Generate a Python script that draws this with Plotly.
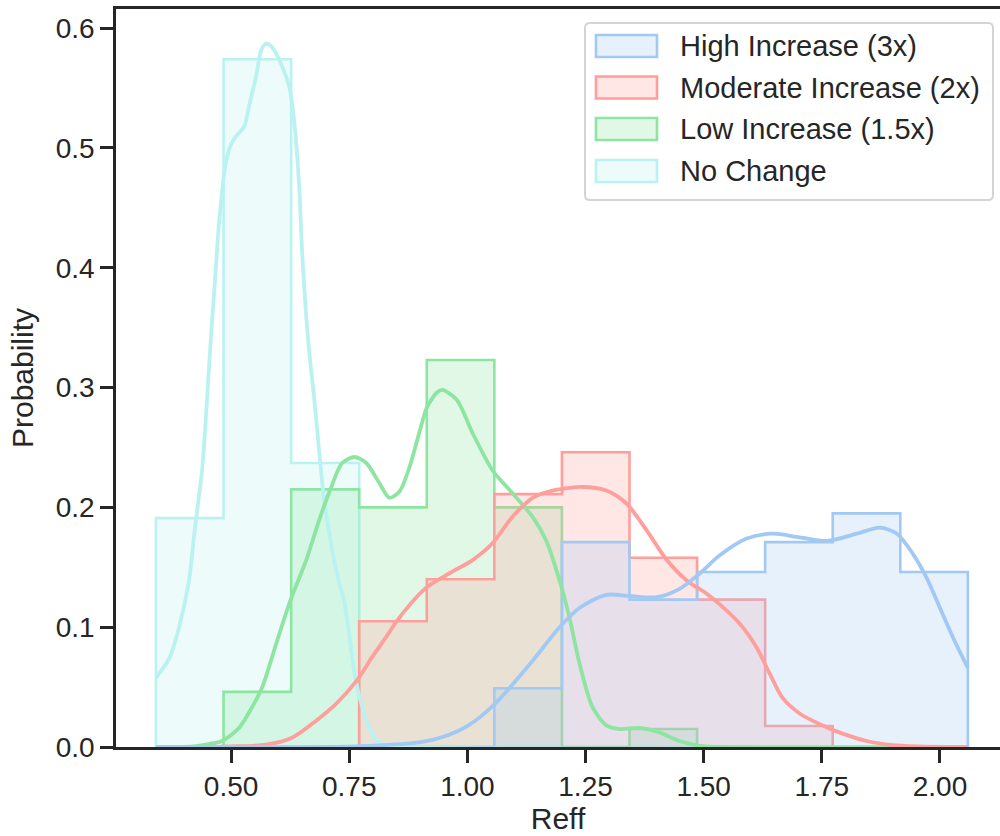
import plotly.graph_objects as go

# ---------------- data ----------------
bin_edges = [0.341, 0.484, 0.627, 0.771, 0.914, 1.057, 1.200, 1.343, 1.486, 1.630, 1.773, 1.916, 2.059]

series_names = ["High Increase (3x)", "Moderate Increase (2x)", "Low Increase (1.5x)", "No Change"]
series_colors = ["#a1c9f4", "#ff9f9b", "#8de5a1", "#b9f2f0"]

prob_high = [0, 0, 0, 0, 0, 0.049, 0.171, 0.123, 0.146, 0.171, 0.195, 0.146]
prob_moderate = [0, 0, 0, 0.105, 0.140, 0.211, 0.246, 0.158, 0.123, 0.0175, 0, 0]
prob_low = [0, 0.046, 0.215, 0.200, 0.323, 0.200, 0, 0.015, 0, 0, 0, 0]
prob_none = [0.191, 0.574, 0.237, 0, 0, 0, 0, 0, 0, 0, 0, 0]

kde_none_x = [0.341, 0.369, 0.390, 0.411, 0.422, 0.439, 0.449, 0.458, 0.466, 0.475, 0.489, 0.500,
              0.511, 0.528, 0.538, 0.553, 0.564, 0.574, 0.585, 0.608, 0.623, 0.633, 0.644, 0.650,
              0.657, 0.665, 0.676, 0.686, 0.697, 0.714, 0.729, 0.739, 0.764, 0.778, 0.792, 0.809,
              0.828, 0.860, 2.059]
kde_none_y = [0.058, 0.074, 0.100, 0.139, 0.178, 0.233, 0.290, 0.346, 0.390, 0.440, 0.488, 0.503,
              0.510, 0.518, 0.535, 0.560, 0.582, 0.587, 0.585, 0.568, 0.551, 0.524, 0.468, 0.415,
              0.370, 0.331, 0.290, 0.248, 0.206, 0.164, 0.136, 0.122, 0.055, 0.033, 0.016, 0.005,
              0.002, 0.0, 0.0]

kde_low_x = [0.341, 0.420, 0.453, 0.481, 0.517, 0.544, 0.566, 0.596, 0.627, 0.659, 0.686, 0.712,
             0.735, 0.761, 0.786, 0.814, 0.835, 0.856, 0.877, 0.898, 0.915, 0.936, 0.947, 0.977,
             1.011, 1.053, 1.095, 1.138, 1.167, 1.195, 1.216, 1.237, 1.265, 1.294, 1.322, 1.364,
             1.400, 1.449, 1.492, 1.550, 2.059]
kde_low_y = [0.0, 0.0005, 0.0025, 0.005, 0.016, 0.033, 0.050, 0.087, 0.124, 0.156, 0.189, 0.217,
             0.237, 0.242, 0.237, 0.220, 0.208, 0.213, 0.233, 0.262, 0.284, 0.296, 0.298, 0.290,
             0.262, 0.231, 0.212, 0.192, 0.172, 0.139, 0.108, 0.070, 0.033, 0.018, 0.015, 0.016,
             0.013, 0.005, 0.001, 0.0, 0.0]

kde_moderate_x = [0.341, 0.500, 0.574, 0.630, 0.680, 0.722, 0.765, 0.800, 0.830, 0.856, 0.913, 0.962,
                  1.011, 1.053, 1.095, 1.138, 1.180, 1.244, 1.294, 1.337, 1.379, 1.422, 1.464, 1.506,
                  1.534, 1.576, 1.612, 1.640, 1.667, 1.703, 1.746, 1.788, 1.845, 1.900, 1.951, 2.059]
kde_moderate_y = [0.0, 0.0005, 0.002, 0.008, 0.022, 0.036, 0.055, 0.076, 0.093, 0.108, 0.133, 0.145,
                  0.156, 0.170, 0.192, 0.208, 0.214, 0.217, 0.214, 0.203, 0.181, 0.156, 0.139, 0.128,
                  0.119, 0.103, 0.083, 0.061, 0.041, 0.028, 0.019, 0.012, 0.005, 0.0015, 0.0005, 0.0]

kde_high_x = [0.341, 0.750, 0.820, 0.880, 0.926, 0.960, 0.998, 1.030, 1.068, 1.138, 1.195, 1.237,
              1.294, 1.343, 1.400, 1.449, 1.492, 1.534, 1.591, 1.646, 1.703, 1.761, 1.824, 1.873,
              1.909, 1.943, 1.972, 2.000, 2.028, 2.059]
kde_high_y = [0.0, 0.0003, 0.0015, 0.003, 0.006, 0.010, 0.017, 0.026, 0.040, 0.072, 0.100, 0.116,
              0.127, 0.126, 0.125, 0.132, 0.145, 0.160, 0.174, 0.178, 0.175, 0.172, 0.178, 0.183,
              0.178, 0.161, 0.141, 0.116, 0.091, 0.066]

x_ticks = [0.50, 0.75, 1.00, 1.25, 1.50, 1.75, 2.00]
y_ticks = [0.0, 0.1, 0.2, 0.3, 0.4, 0.5, 0.6]

hist_values = [prob_high, prob_moderate, prob_low, prob_none]
kde_values = [(kde_high_x, kde_high_y), (kde_moderate_x, kde_moderate_y),
              (kde_low_x, kde_low_y), (kde_none_x, kde_none_y)]

# ---------------- styling ----------------
FONT = "Liberation Sans, Arial, sans-serif"
INK = "#262626"
W, H = 1000, 836
M_L, M_R, M_T, M_B = 116, 0, 9, 89
TICK_SIZE, LEGEND_SIZE, TITLE_SIZE = 28, 29, 30


def rgba(hex_color, a):
    h = hex_color.lstrip("#")
    r, g, b = int(h[0:2], 16), int(h[2:4], 16), int(h[4:6], 16)
    return f"rgba({r},{g},{b},{a})"


fig = go.Figure()

# histograms (step outlines with translucent fill), drawn last-hue first
for i in reversed(range(len(series_names))):
    heights = hist_values[i]
    xs = [bin_edges[0]] + bin_edges[:-1] + [bin_edges[-1]]
    ys = [0] + heights + [0]
    fig.add_trace(go.Scatter(
        x=xs, y=ys, mode="lines", line=dict(shape="hv", color=series_colors[i], width=2.6),
        fill="tozeroy", fillcolor=rgba(series_colors[i], 0.25),
        name=series_names[i], showlegend=False, hoverinfo="skip"))

# KDE curves on top
for i in reversed(range(len(series_names))):
    kx, ky = kde_values[i]
    fig.add_trace(go.Scatter(
        x=kx, y=ky, mode="lines", line=dict(shape="spline", smoothing=0.8,
                                            color=series_colors[i], width=3.8),
        name=series_names[i] + " KDE", showlegend=False, hoverinfo="skip"))

# ---------------- manual legend (matplotlib style) ----------------
pw, ph = W - M_L - M_R, H - M_T - M_B


def px_x(p):
    return (p - M_L) / pw


def px_y(p):
    return (H - M_B - p) / ph


shapes = []
annotations = []
x0, x1, y0, y1, r = 585, 993, 23, 200, 5
path = (f"M {px_x(x0 + r)},{px_y(y0)} L {px_x(x1 - r)},{px_y(y0)} "
        f"Q {px_x(x1)},{px_y(y0)} {px_x(x1)},{px_y(y0 + r)} "
        f"L {px_x(x1)},{px_y(y1 - r)} Q {px_x(x1)},{px_y(y1)} {px_x(x1 - r)},{px_y(y1)} "
        f"L {px_x(x0 + r)},{px_y(y1)} Q {px_x(x0)},{px_y(y1)} {px_x(x0)},{px_y(y1 - r)} "
        f"L {px_x(x0)},{px_y(y0 + r)} Q {px_x(x0)},{px_y(y0)} {px_x(x0 + r)},{px_y(y0)} Z")
shapes.append(dict(type="path", xref="paper", yref="paper", path=path,
                   fillcolor="rgba(255,255,255,0.8)", line=dict(color="#d4d4d4", width=2),
                   layer="above"))
row_centers = [46, 87.5, 129, 171]
for i, name in enumerate(series_names):
    cy = row_centers[i]
    shapes.append(dict(type="rect", xref="paper", yref="paper",
                       x0=px_x(596), x1=px_x(657), y0=px_y(cy + 11), y1=px_y(cy - 11),
                       fillcolor=rgba(series_colors[i], 0.25),
                       line=dict(color=series_colors[i], width=2.6), layer="above"))
    annotations.append(dict(xref="paper", yref="paper", x=px_x(678), y=px_y(cy),
                            text=name, showarrow=False, xanchor="left", yanchor="middle",
                            font=dict(family=FONT, size=LEGEND_SIZE, color=INK)))

fig.update_layout(
    width=W, height=H,
    margin=dict(l=M_L, r=M_R, t=M_T, b=M_B, pad=0),
    paper_bgcolor="white", plot_bgcolor="white",
    font=dict(family=FONT, color=INK, size=TICK_SIZE),
    shapes=shapes, annotations=annotations,
    showlegend=False,
)
fig.update_xaxes(
    range=[0.2564, 2.127], tickvals=x_ticks, ticktext=[f"{v:.2f}" for v in x_ticks],
    showgrid=False, zeroline=False, showline=True, linecolor=INK, linewidth=2.6, mirror=True,
    ticks="outside", ticklen=13, tickwidth=2.6, tickcolor=INK,
    tickfont=dict(family=FONT, size=TICK_SIZE, color=INK),
    title=dict(text="Reff", font=dict(family=FONT, size=TITLE_SIZE, color=INK), standoff=4),
)
fig.update_yaxes(
    range=[0, 0.6159], tickvals=y_ticks, ticktext=[f"{v:.1f}" for v in y_ticks],
    showgrid=False, zeroline=False, showline=True, linecolor=INK, linewidth=2.6, mirror=False,
    ticks="outside", ticklen=13, tickwidth=2.6, tickcolor=INK,
    tickfont=dict(family=FONT, size=TICK_SIZE, color=INK),
    title=dict(text="Probability", font=dict(family=FONT, size=TITLE_SIZE, color=INK), standoff=14),
)

fig.write_html("out.html", config={"displayModeBar": False},
               post_script="document.body.style.margin='0px';document.body.style.padding='0px';")
